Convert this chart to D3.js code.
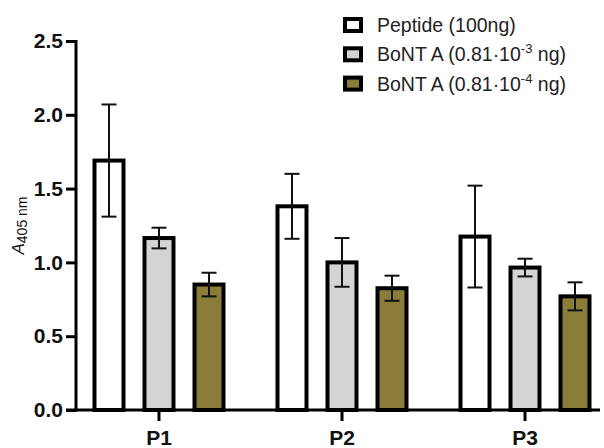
<!DOCTYPE html>
<html>
<head>
<meta charset="utf-8">
<script src="https://cdn.jsdelivr.net/npm/d3@7"></script>
<style>
  body { margin: 0; background: #fff; }
  text { font-family: "Liberation Sans", Arial, sans-serif; }
</style>
</head>
<body>
<div id="chart-area"></div>
<script>
var width = 604;
var height = 448;

// data
var groups = ["P1", "P2", "P3"];
var seriesNames = ["Peptide (100ng)", "BoNT A (0.81\u00b710", "BoNT A (0.81\u00b710"];
var seriesSup = ["", "-3", "-4"];
var seriesTail = ["", " ng)", " ng)"];
var peptide = [1.69, 1.38, 1.175];
var bontA3 = [1.165, 1.0, 0.965];
var bontA4 = [0.85, 0.825, 0.77];
var peptideErr = [0.38, 0.22, 0.345];
var bontA3Err = [0.07, 0.165, 0.06];
var bontA4Err = [0.08, 0.085, 0.095];
var yTicks = [0, 0.5, 1.0, 1.5, 2.0, 2.5];
var colors = ["#ffffff", "#d4d4d4", "#8a7d3a"];

var seriesValues = [peptide, bontA3, bontA4];
var seriesErrs = [peptideErr, bontA3Err, bontA4Err];

var rows = [];
groups.forEach((g, gi) => {
    seriesValues.forEach((vals, si) => {
        rows.push({ group: g, series: si, value: vals[gi], err: seriesErrs[si][gi] });
    });
});

var plotLeft = 76, plotBottom = 410, plotTop = 41;

var svg = d3.select("#chart-area")
    .append("svg")
    .attr("width", width)
    .attr("height", height);

var x0 = d3.scaleBand()
    .domain(groups)
    .range([plotLeft, 608])
    .paddingInner(0.1)
    .paddingOuter(0.0035);

var x1 = d3.scaleBand()
    .domain([0, 1, 2])
    .range([0, x0.bandwidth()])
    .paddingInner(0.34)
    .paddingOuter(0.317);

var y = d3.scaleLinear()
    .domain([0, 2.5])
    .range([plotBottom, plotTop]);

// bars
svg.append("g").selectAll("rect")
    .data(rows)
    .enter()
    .append("rect")
    .attr("x", d => x0(d.group) + x1(d.series) + 2)
    .attr("y", d => y(d.value))
    .attr("width", x1.bandwidth() - 4)
    .attr("height", d => y(0) - y(d.value))
    .attr("fill", d => colors[d.series])
    .attr("stroke", "#000")
    .attr("stroke-width", 4);

// error bars
var eb = svg.append("g").attr("stroke", "#111").attr("stroke-width", 2);
rows.forEach(d => {
    var cx = x0(d.group) + x1(d.series) + x1.bandwidth() / 2;
    var hi = y(d.value + d.err), lo = y(d.value - d.err);
    eb.append("line").attr("x1", cx).attr("x2", cx).attr("y1", hi).attr("y2", lo);
    eb.append("line").attr("x1", cx - 7.5).attr("x2", cx + 7.5).attr("y1", hi).attr("y2", hi);
    eb.append("line").attr("x1", cx - 7.5).attr("x2", cx + 7.5).attr("y1", lo).attr("y2", lo);
});

// y axis
var yAxis = d3.axisLeft(y)
    .tickValues(yTicks)
    .tickFormat(d3.format(".1f"))
    .tickSize(10)
    .tickPadding(3)
    .tickSizeOuter(0);
var yg = svg.append("g")
    .attr("transform", `translate(${plotLeft}, 0)`)
    .call(yAxis);
yg.select(".domain").attr("stroke-width", 3).attr("d", `M0,${plotTop - 1}V${plotBottom + 1.5}`);
yg.selectAll(".tick line").attr("stroke-width", 3);
yg.selectAll(".tick text")
    .attr("font-size", "21px")
    .attr("font-weight", "bold")
    .attr("fill", "#111")
    .attr("font-family", "Liberation Sans, Arial, sans-serif");

// x axis
var xAxis = d3.axisBottom(x0).tickSize(11).tickPadding(9).tickSizeOuter(0);
var xg = svg.append("g")
    .attr("transform", `translate(0, ${plotBottom})`)
    .call(xAxis);
xg.select(".domain").attr("stroke-width", 3).attr("d", `M${plotLeft - 10},0H600`);
xg.selectAll(".tick line").attr("stroke-width", 3);
xg.selectAll(".tick text")
    .attr("font-size", "21px")
    .attr("font-weight", "bold")
    .attr("fill", "#111")
    .attr("font-family", "Liberation Sans, Arial, sans-serif");

// y label
var yl = svg.append("text")
    .attr("transform", `translate(24, ${(plotTop + plotBottom) / 2}) rotate(-90)`)
    .attr("text-anchor", "middle")
    .attr("fill", "#111");
yl.append("tspan").attr("font-size", "17px").attr("font-style", "italic").text("A");
yl.append("tspan").attr("font-size", "14px").attr("dy", 3).text("405 nm");

// legend
var legend = svg.append("g").attr("transform", "translate(343, 17)");
seriesNames.forEach((name, i) => {
    var row = legend.append("g").attr("transform", `translate(0, ${i * 29.3})`);
    row.append("rect")
        .attr("x", 2).attr("y", 2)
        .attr("width", 16).attr("height", 12)
        .attr("fill", colors[i])
        .attr("stroke", "#000")
        .attr("stroke-width", 4);
    var t = row.append("text")
        .attr("x", 34).attr("y", 15)
        .attr("font-size", "19.5px")
        .attr("fill", "#222")
        .text(name);
    if (seriesSup[i]) {
        t.append("tspan").attr("font-size", "13px").attr("dy", -8).text(seriesSup[i]);
        t.append("tspan").attr("dy", 8).text(seriesTail[i]);
    }
});
</script>
</body>
</html>
